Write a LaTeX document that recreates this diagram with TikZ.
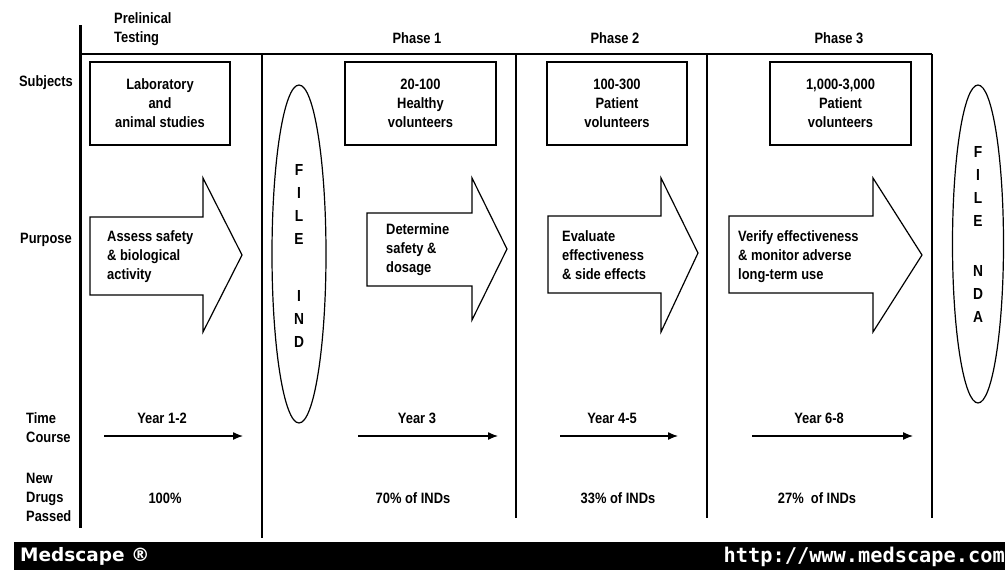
\documentclass[tikz,border=0pt]{standalone}
\usepackage{fontspec}
\setmainfont{Liberation Sans}[FakeStretch=0.86]
\newfontfamily\bandfont{DejaVu Sans}
\newfontfamily\urlfont{DejaVu Sans Mono}
\usetikzlibrary{arrows.meta,shapes.geometric}
\tikzset{
  lbl/.style={inner sep=0pt, font=\fontsize{15}{19}\selectfont\bfseries},
  lbll/.style={lbl, align=left, anchor=west},
  lblc/.style={lbl, align=center},
  subjbox/.style={draw, line width=1.2pt, minimum height=83pt, inner sep=0pt, align=center, font=\fontsize{15}{19}\selectfont\bfseries},
  blockarrow/.style={draw, line width=1.2pt, line join=miter},
  sepline/.style={line width=1.4pt},
  fileell/.style={draw, ellipse, line width=1.2pt, inner sep=0pt},
  filetxt/.style={inner sep=0pt, align=center, font=\fontsize{16}{23}\selectfont\bfseries},
  timearrow/.style={line width=1.3pt, -{Latex[length=10pt,width=8pt]}},
}
\begin{document}
\begin{tikzpicture}[x=1pt,y=-1pt]
\useasboundingbox (0,0) rectangle (1005,570);
% frame lines
\draw[line width=3pt] (80,25) -- (80,528);
\draw[line width=2.5pt] (80,54) -- (932,54);
\draw[sepline] (262,54) -- (262,538);
\draw[sepline] (516,54) -- (516,518);
\draw[sepline] (707,54) -- (707,518);
\draw[sepline] (932,54) -- (932,518);
% headings
\node[lbll] (pre) at (114,29) {Prelinical\\Testing};
\node[lblc] (ph1) at (417,38) {Phase 1};
\node[lblc] (ph2) at (615,38) {Phase 2};
\node[lblc] (ph3) at (839,38) {Phase 3};
% row labels
\node[lblc] (subj) at (46,83) {Subjects};
\node[lblc] (purp) at (46,240) {Purpose};
\node[lbll] (time) at (26,428) {Time\\Course};
\node[lbll] (newd) at (26,497) {New\\Drugs\\Passed};
% subject boxes
\node[subjbox, minimum width=140pt] (b1) at (160,103.5) {Laboratory\\and\\animal studies};
\node[subjbox, minimum width=151pt] (b2) at (420.5,103.5) {20-100\\Healthy\\volunteers};
\node[subjbox, minimum width=140pt] (b3) at (617,103.5) {100-300\\Patient\\volunteers};
\node[subjbox, minimum width=141pt] (b4) at (840.5,103.5) {1,000-3,000\\Patient\\volunteers};
% block arrows
\draw[blockarrow] (90,217) -- (203,217) -- (203,178) -- (242,255) -- (203,332) -- (203,295) -- (90,295) -- cycle;
\draw[blockarrow] (367,213) -- (472,213) -- (472,178) -- (507,249) -- (472,320) -- (472,286) -- (367,286) -- cycle;
\draw[blockarrow] (548,216) -- (661,216) -- (661,178) -- (698,253) -- (661,332) -- (661,293) -- (548,293) -- cycle;
\draw[blockarrow] (729,216) -- (873,216) -- (873,178) -- (922,255) -- (873,332) -- (873,293) -- (729,293) -- cycle;
\node[lbll] (p1) at (107,257) {Assess safety\\\& biological\\activity};
\node[lbll] (p2) at (386,250) {Determine\\safety \&\\dosage};
\node[lbll] (p3) at (562,255) {Evaluate\\effectiveness\\\& side effects};
\node[lbll] (p4) at (738,257) {Verify effectiveness\\\& monitor adverse\\long-term use};
% ellipses
\node[fileell, minimum width=54pt, minimum height=338pt] (ind) at (299,254) {};
\node[filetxt] (indtxt) at (299,256) {F\\I\\L\\E\\[34pt]I\\N\\D};
\node[fileell, minimum width=51pt, minimum height=318pt] (nda) at (978,244) {};
\node[filetxt] (ndatxt) at (978,234) {F\\I\\L\\E\\[27pt]N\\D\\A};
% time course
\node[lblc] (y1) at (162,418) {Year 1-2};
\node[lblc] (y2) at (417,418) {Year 3};
\node[lblc] (y3) at (612,418) {Year 4-5};
\node[lblc] (y4) at (819,418) {Year 6-8};
\coordinate (t1a) at (104,436); \coordinate (t1b) at (243,436);
\coordinate (t2a) at (358,436); \coordinate (t2b) at (498,436);
\coordinate (t3a) at (560,436); \coordinate (t3b) at (678,436);
\coordinate (t4a) at (752,436); \coordinate (t4b) at (913,436);
\draw[timearrow] (t1a) -- (t1b);
\draw[timearrow] (t2a) -- (t2b);
\draw[timearrow] (t3a) -- (t3b);
\draw[timearrow] (t4a) -- (t4b);
% pass rates
\node[lblc] (r1) at (165,498) {100\%};
\node[lblc] (r2) at (413,498) {70\% of INDs};
\node[lblc] (r3) at (618,498) {33\% of INDs};
\node[lblc] (r4) at (817,498) {27\%\ \ of INDs};
% footer band
\fill[black] (14,542) rectangle (1005,570);
\node[inner sep=0pt, anchor=west, text=white, font=\bandfont\fontsize{18.5}{18.5}\selectfont\bfseries] (med) at (20,556) {Medscape ®};
\node[inner sep=0pt, anchor=east, text=white, font=\urlfont\fontsize{20.3}{20.3}\selectfont\bfseries] (url) at (1005,557) {http://www.medscape.com};
\end{tikzpicture}
\end{document}
